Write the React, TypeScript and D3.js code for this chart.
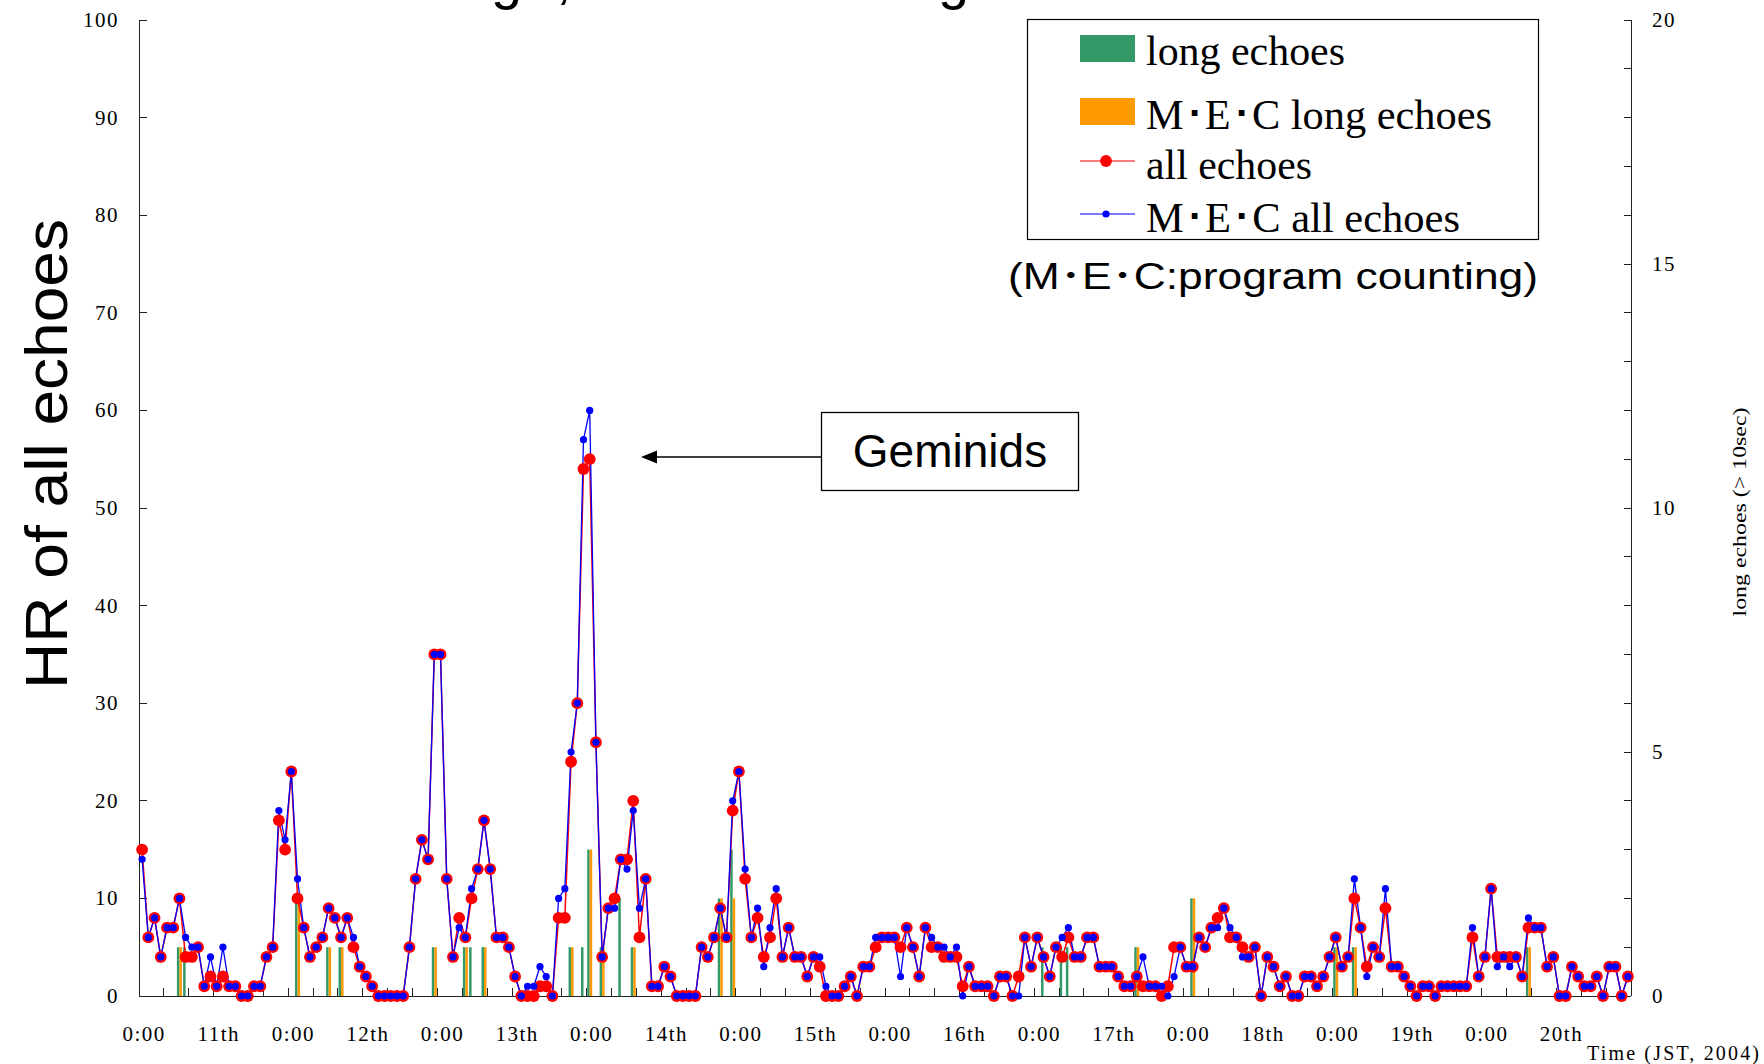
import React from "react"
import * as d3 from "d3"

// hourly counts, one row per day (0:00 of the 11th .. 23:00 of the 20th)
const allEchoes = [
  15, 6, 8, 4, 7, 7, 10, 4, 4, 5, 1, 2, 1, 2, 1, 1, 0, 0, 1, 1, 4, 5, 18, 15,
  23, 10, 7, 4, 5, 6, 9, 8, 6, 8, 5, 3, 2, 1, 0, 0, 0, 0, 0, 5, 12, 16, 14, 35,
  35, 12, 4, 8, 6, 10, 13, 18, 13, 6, 6, 5, 2, 0, 0, 0, 1, 1, 0, 8, 8, 24, 30, 54,
  55, 26, 4, 9, 10, 14, 14, 20, 6, 12, 1, 1, 3, 2, 0, 0, 0, 0, 5, 4, 6, 9, 6, 19,
  23, 12, 6, 8, 4, 6, 10, 4, 7, 4, 4, 2, 4, 3, 0, 0, 0, 1, 2, 0, 3, 3, 5, 6,
  6, 6, 5, 7, 5, 2, 7, 5, 5, 4, 4, 4, 1, 3, 1, 1, 1, 0, 2, 2, 0, 2, 6, 3,
  6, 4, 2, 5, 4, 6, 4, 4, 6, 6, 3, 3, 3, 2, 1, 1, 2, 1, 1, 1, 0, 1, 5, 5,
  3, 3, 6, 5, 7, 8, 9, 6, 6, 5, 4, 5, 0, 4, 3, 1, 2, 0, 0, 2, 2, 1, 2, 4,
  6, 3, 4, 10, 7, 3, 5, 4, 9, 3, 3, 2, 1, 0, 1, 1, 0, 1, 1, 1, 1, 1, 6, 2,
  4, 11, 4, 4, 4, 4, 2, 7, 7, 7, 3, 4, 0, 0, 3, 2, 1, 1, 2, 0, 3, 3, 0, 2,
]

const mecAllEchoes = [
  14, 6, 8, 4, 7, 7, 10, 6, 5, 5, 1, 4, 1, 5, 1, 1, 0, 0, 1, 1, 4, 5, 19, 16,
  23, 12, 7, 4, 5, 6, 9, 8, 6, 8, 6, 3, 2, 1, 0, 0, 0, 0, 0, 5, 12, 16, 14, 35,
  35, 12, 4, 7, 6, 11, 13, 18, 13, 6, 6, 5, 2, 0, 1, 1, 3, 2, 0, 10, 11, 25, 30, 57,
  60, 26, 4, 9, 9, 14, 13, 19, 9, 12, 1, 1, 3, 2, 0, 0, 0, 0, 5, 4, 6, 9, 6, 20,
  23, 13, 6, 9, 3, 7, 11, 4, 7, 4, 4, 2, 4, 4, 1, 0, 0, 1, 2, 0, 3, 3, 6, 6,
  6, 6, 2, 7, 5, 2, 7, 6, 5, 5, 4, 5, 0, 3, 1, 1, 1, 0, 2, 2, 0, 0, 6, 3,
  6, 4, 2, 5, 6, 7, 4, 4, 6, 6, 3, 3, 3, 2, 1, 1, 2, 4, 1, 1, 1, 0, 2, 5,
  3, 3, 6, 5, 7, 7, 9, 7, 6, 4, 4, 5, 0, 4, 3, 1, 2, 0, 0, 2, 2, 1, 2, 4,
  6, 3, 4, 12, 7, 2, 5, 4, 11, 3, 3, 2, 1, 0, 1, 1, 0, 1, 1, 1, 1, 1, 7, 2,
  4, 11, 3, 4, 3, 4, 2, 8, 7, 7, 3, 4, 0, 0, 3, 2, 1, 1, 2, 0, 3, 3, 0, 2,
]

// long echoes (> 10 sec), right axis
const longEchoes = [
  0, 0, 0, 0, 0, 0, 1, 1, 0, 0, 0, 0, 0, 0, 0, 0, 0, 0, 0, 0, 0, 0, 0, 0,
  0, 2, 0, 0, 0, 0, 1, 0, 1, 0, 0, 0, 0, 0, 0, 0, 0, 0, 0, 0, 0, 0, 0, 1,
  0, 0, 0, 0, 1, 1, 0, 1, 0, 0, 0, 0, 0, 0, 0, 0, 0, 0, 0, 0, 0, 1, 0, 1,
  3, 0, 1, 0, 0, 2, 0, 1, 0, 0, 0, 0, 0, 0, 0, 0, 0, 0, 0, 0, 0, 2, 0, 3,
  0, 0, 0, 0, 0, 0, 0, 0, 0, 0, 0, 0, 0, 0, 0, 0, 0, 0, 0, 0, 0, 0, 0, 0,
  0, 0, 0, 0, 0, 0, 0, 0, 0, 0, 0, 0, 0, 0, 0, 0, 0, 0, 0, 0, 0, 0, 0, 0,
  0, 1, 0, 0, 1, 1, 0, 0, 0, 0, 0, 0, 0, 0, 0, 0, 1, 0, 0, 0, 0, 0, 0, 0,
  0, 2, 0, 0, 0, 0, 0, 0, 0, 0, 0, 0, 0, 0, 0, 0, 0, 0, 0, 0, 0, 0, 0, 0,
  1, 0, 0, 1, 0, 0, 0, 0, 0, 0, 0, 0, 0, 0, 0, 0, 0, 0, 0, 0, 0, 0, 0, 0,
  0, 0, 0, 0, 0, 0, 0, 1, 0, 0, 0, 0, 0, 0, 0, 0, 0, 0, 0, 0, 0, 0, 0, 0,
]

const mecLongEchoes = [
  0, 0, 0, 0, 0, 0, 1, 0, 0, 0, 0, 0, 0, 0, 0, 0, 0, 0, 0, 0, 0, 0, 0, 0,
  0, 2, 0, 0, 0, 0, 1, 0, 1, 0, 0, 0, 0, 0, 0, 0, 0, 0, 0, 0, 0, 0, 0, 1,
  0, 0, 0, 0, 1, 0, 0, 1, 0, 0, 0, 0, 0, 0, 0, 0, 0, 0, 0, 0, 0, 1, 0, 0,
  3, 0, 1, 0, 0, 0, 0, 1, 0, 0, 0, 0, 0, 0, 0, 0, 0, 0, 0, 0, 0, 2, 0, 2,
  0, 0, 0, 0, 0, 0, 0, 0, 0, 0, 0, 0, 0, 0, 0, 0, 0, 0, 0, 0, 0, 0, 0, 0,
  0, 0, 0, 0, 0, 0, 0, 0, 0, 0, 0, 0, 0, 0, 0, 0, 0, 0, 0, 0, 0, 0, 0, 0,
  0, 0, 0, 0, 0, 0, 0, 0, 0, 0, 0, 0, 0, 0, 0, 0, 1, 0, 0, 0, 0, 0, 0, 0,
  0, 2, 0, 0, 0, 0, 0, 0, 0, 0, 0, 0, 0, 0, 0, 0, 0, 0, 0, 0, 0, 0, 0, 0,
  1, 0, 0, 1, 0, 0, 0, 0, 0, 0, 0, 0, 0, 0, 0, 0, 0, 0, 0, 0, 0, 0, 0, 0,
  0, 0, 0, 0, 0, 0, 0, 1, 0, 0, 0, 0, 0, 0, 0, 0, 0, 0, 0, 0, 0, 0, 0, 0,
]

// a label every 12 hours
const timeLabels = [
  "0:00", "11th", "0:00", "12th", "0:00", "13th", "0:00", "14th", "0:00", "15th",
  "0:00", "16th", "0:00", "17th", "0:00", "18th", "0:00", "19th", "0:00", "20th",
]

const leftTicks = [0, 10, 20, 30, 40, 50, 60, 70, 80, 90, 100]
const rightTicks = [0, 5, 10, 15, 20]

const W = 1764, H = 1064
const margin = {left: 139, right: 1631, top: 20, bottom: 996}
const serif = "'Liberation Serif', 'Times New Roman', serif"
const sans = "'Liberation Sans', Arial, 'Noto Sans CJK JP', sans-serif"

const App = () => {
  const idx = d3.range(allEchoes.length)
  const x = d3.scaleBand<number>().domain(idx).range([margin.left, margin.right]).paddingInner(0).paddingOuter(0)
  const bw = x.bandwidth()
  const cx = (i: number) => (x(i) as number) + bw / 2
  const y = d3.scaleLinear().domain([0, 100]).range([margin.bottom, margin.top])
  const yR = d3.scaleLinear().domain([0, 20]).range([margin.bottom, margin.top])

  const line = d3.line<number>().x((d, i) => cx(i)).y(d => y(d))
  const barW = 2.5

  return (
    <svg width={W} height={H} style={{position: "absolute", left: 0, top: 0, background: "#fff"}}>
      {/* title, mostly off the top edge */}
      <g fontFamily={sans} fontSize={56}>
        <text x={491} y={-2}>g</text>
        <text x={556} y={-2}>,</text>
        <text x={938} y={-2}>g</text>
      </g>

      {/* bars on right axis */}
      {idx.map(i => longEchoes[i] > 0 && (
        <rect key={"g" + i} x={cx(i) - barW} y={yR(longEchoes[i])} width={barW}
              height={margin.bottom - yR(longEchoes[i])} fill="#339966"/>
      ))}
      {idx.map(i => mecLongEchoes[i] > 0 && (
        <rect key={"o" + i} x={cx(i)} y={yR(mecLongEchoes[i])} width={barW}
              height={margin.bottom - yR(mecLongEchoes[i])} fill="#ff9900"/>
      ))}

      {/* axes */}
      <g stroke="#222" strokeWidth={1} fill="none" shapeRendering="crispEdges">
        <line x1={margin.left} x2={margin.left} y1={margin.top} y2={margin.bottom}/>
        <line x1={margin.right} x2={margin.right} y1={margin.top} y2={margin.bottom}/>
        <line x1={margin.left} x2={margin.right} y1={margin.bottom} y2={margin.bottom}/>
        {leftTicks.map(t => (
          <line key={"lt" + t} x1={margin.left} x2={margin.left + 8} y1={y(t)} y2={y(t)}/>
        ))}
        {d3.range(0, 21).map(t => (
          <line key={"rt" + t} x1={margin.right - 7} x2={margin.right} y1={yR(t)} y2={yR(t)}/>
        ))}
        {d3.range(4, allEchoes.length, 4).map(i => (
          <line key={"xt" + i} x1={x(i)} x2={x(i)} y1={margin.bottom - 8} y2={margin.bottom}/>
        ))}
      </g>

      {/* all echoes (red) then M・E・C (blue) */}
      <path d={line(allEchoes) as string} fill="none" stroke="#ff0000" strokeWidth={1.5}/>
      <path d={line(mecAllEchoes) as string} fill="none" stroke="#0000ff" strokeWidth={1.3}/>
      {allEchoes.map((d, i) => (
        <circle key={"r" + i} cx={cx(i)} cy={y(d)} r={5.9} fill="#ff0000"/>
      ))}
      {mecAllEchoes.map((d, i) => (
        <circle key={"b" + i} cx={cx(i)} cy={y(d)} r={3.6} fill="#0000ff"/>
      ))}

      {/* tick labels */}
      <g fontFamily={serif} fontSize={21} fill="#000" letterSpacing={1.5}>
        {leftTicks.map(t => (
          <text key={"ll" + t} x={119} y={y(t) + 7} textAnchor="end">{t}</text>
        ))}
        {rightTicks.map(t => (
          <text key={"rl" + t} x={1652} y={yR(t) + 7}>{t}</text>
        ))}
        {timeLabels.map((s, k) => (
          <text key={"xl" + k} x={cx(k * 12) + 2} y={1041} textAnchor="middle">{s}</text>
        ))}
      </g>
      <text x={1587} y={1060} fontFamily={serif} fontSize={20} textLength={172}
            lengthAdjust="spacing">Time (JST, 2004)</text>

      {/* axis titles */}
      <text transform="translate(67,454) rotate(-90)" textAnchor="middle" fontFamily={sans}
            fontSize={59} textLength={470} lengthAdjust="spacingAndGlyphs">HR of all echoes</text>
      <text transform="translate(1746,512) rotate(-90)" textAnchor="middle" fontFamily={serif}
            fontSize={19} textLength={209} lengthAdjust="spacingAndGlyphs">long echoes (&gt; 10sec)</text>

      {/* legend */}
      <rect x={1027.5} y={19.5} width={511} height={220} fill="#fff" stroke="#000" strokeWidth={1.2}/>
      <rect x={1080} y={35} width={55} height={27} fill="#339966"/>
      <rect x={1080} y={98} width={55} height={27} fill="#ff9900"/>
      <line x1={1080} x2={1135} y1={161} y2={161} stroke="#ff5050" strokeWidth={1.5}/>
      <circle cx={1106} cy={161} r={5.9} fill="#ff0000"/>
      <line x1={1080} x2={1135} y1={214} y2={214} stroke="#5050ff" strokeWidth={1.3}/>
      <circle cx={1106} cy={214} r={3.6} fill="#0000ff"/>
      <g fontFamily={serif} fontSize={42} fill="#000">
        <text x={1146} y={65} textLength={199} lengthAdjust="spacingAndGlyphs">long echoes</text>
        <text x={1146} y={129} textLength={346} lengthAdjust="spacingAndGlyphs">M･E･C long echoes</text>
        <text x={1146} y={179} textLength={166} lengthAdjust="spacingAndGlyphs">all echoes</text>
        <text x={1146} y={232} textLength={314} lengthAdjust="spacingAndGlyphs">M･E･C all echoes</text>
      </g>
      <text x={1008} y={289} fontFamily={sans} fontSize={36} textLength={530}
            lengthAdjust="spacingAndGlyphs">(M･E･C:program counting)</text>

      {/* Geminids callout */}
      <line x1={821} x2={655} y1={457} y2={457} stroke="#000" strokeWidth={1.3}/>
      <path d="M641,457 L657,450.5 L657,463.5 Z" fill="#000"/>
      <rect x={821.5} y={412.5} width={257} height={78} fill="#fff" stroke="#000" strokeWidth={1.3}/>
      <text x={950} y={467} textAnchor="middle" fontFamily={sans} fontSize={46}>Geminids</text>
    </svg>
  )
}

export default App
